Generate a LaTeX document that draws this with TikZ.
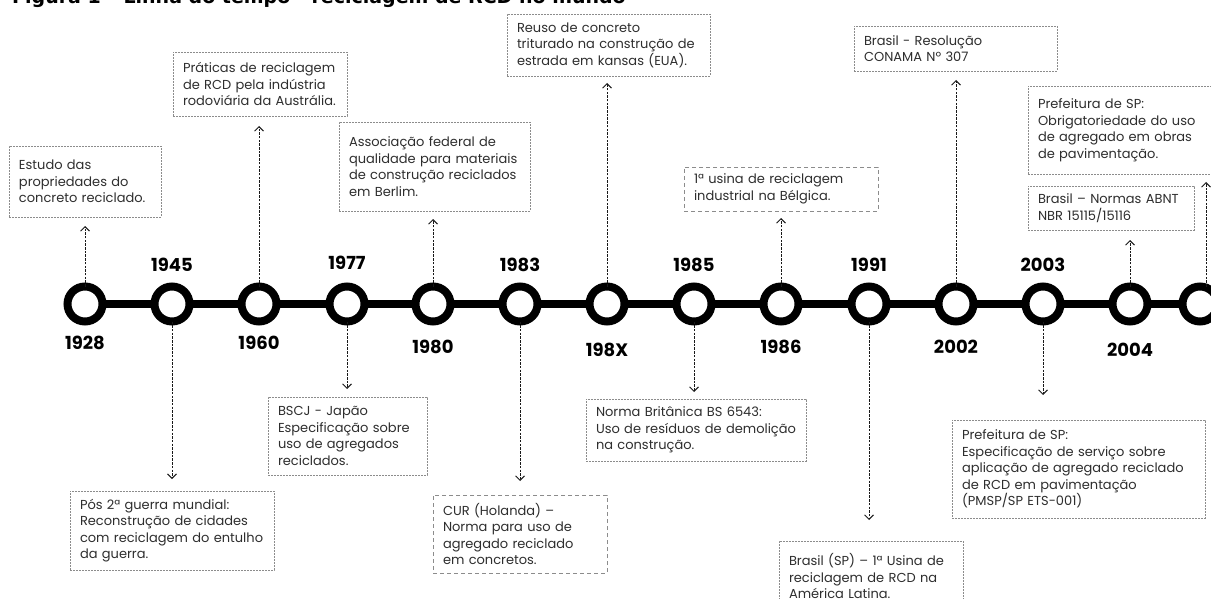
\documentclass[tikz,border=0pt]{standalone}
\usepackage{fontspec}
\setmainfont{Poppins}
\newfontfamily\titlefont{DejaVu Sans}
\usetikzlibrary{arrows.meta}
\definecolor{txt}{HTML}{2E2E2E}
\definecolor{bord}{HTML}{8C8C8C}
\begin{document}
\begin{tikzpicture}[x=1pt,y=-1pt,
  ring/.style={circle,draw=black,line width=8pt,fill=white,minimum size=35pt,inner sep=0pt,outer sep=0pt},
  yr/.style={font=\fontsize{18}{18}\selectfont\bfseries,text=black,inner sep=0pt},
  box/.style={draw=bord,line width=0.8pt,dash pattern=on 2pt off 1pt,anchor=north west,
    inner xsep=10pt,inner ysep=4pt,outer sep=0pt,align=left,text=txt,
    font=\fontsize{13}{16.5}\selectfont},
  wide/.style={dash pattern=on 4pt off 3pt},
  conn/.style={draw=black!90,line width=0.8pt,dash pattern=on 2.5pt off 1.2pt,
    -{Straight Barb[length=4.5pt,width=9pt,line width=0.9pt]}},
  tline/.style={line width=7.5pt,black}]
\clip (0,0) rectangle (1211,599);
\fill[white] (0,0) rectangle (1211,599);
% title (clipped at the top)
\node[anchor=base west,inner sep=0pt,font=\titlefont\fontsize{19}{19}\selectfont\bfseries] (title) at (12,4) {Figura 1 – Linha do tempo - reciclagem de RCD no mundo};
% circles
\foreach \n/\x in {1/85,2/172,3/259,4/347,5/433,6/520,7/607,8/694,9/781,10/869,11/956,12/1043,13/1130,14/1200}
  \node[ring] (c\n) at (\x,304) {};
\foreach \a/\b in {1/2,2/3,3/4,4/5,5/6,6/7,7/8,8/9,9/10,10/11,11/12,12/13,13/14}
  \draw[tline] (c\a) -- (c\b);
% years
\node[yr] (y1) at (85,343) {1928};
\node[yr] (y2) at (172,265) {1945};
\node[yr] (y3) at (259,343) {1960};
\node[yr] (y4) at (347,263) {1977};
\node[yr] (y5) at (433,347) {1980};
\node[yr] (y6) at (520,265) {1983};
\node[yr] (y7) at (607,350) {198X};
\node[yr] (y8) at (694,265) {1985};
\node[yr] (y9) at (781,347) {1986};
\node[yr] (y10) at (869,265) {1991};
\node[yr] (y11) at (956,347) {2002};
\node[yr] (y12) at (1043,265) {2003};
\node[yr] (y13) at (1130,350) {2004};
% boxes above
\node[box,minimum width=152pt,minimum height=71pt,text width=132pt] (b1) at (9,146) {Estudo das\\propriedades do\\concreto reciclado.};
\node[box,minimum width=174pt,minimum height=64pt,text width=154pt] (b3) at (173,52) {Práticas de reciclagem\\de RCD pela indústria\\rodoviária da Austrália.};
\node[box,minimum width=191pt,minimum height=89pt,text width=171pt] (b5) at (339,122) {Associação federal de\\qualidade para materiais\\de construção reciclados\\em Berlim.};
\node[box,minimum width=203pt,minimum height=62pt,text width=183pt] (b7) at (507,14) {Reuso de concreto\\triturado na construção de\\estrada em kansas (EUA).};
\node[box,wide,minimum width=194pt,minimum height=44pt,text width=174pt] (b9) at (684,167) {1ª usina de reciclagem\\industrial na Bélgica.};
\node[box,minimum width=203pt,minimum height=45pt,text width=183pt] (b11) at (854,26) {Brasil - Resolução\\CONAMA Nº 307};
\node[box,minimum width=183pt,minimum height=88pt,text width=163pt] (b14) at (1028,86) {Prefeitura de SP:\\Obrigatoriedade do uso\\de agregado em obras\\de pavimentação.};
\node[box,minimum width=166pt,minimum height=44pt,text width=146pt] (b13) at (1028,186) {Brasil – Normas ABNT\\NBR 15115/15116};
% boxes below
\node[box,minimum width=204pt,minimum height=79pt,text width=184pt] (b2) at (70,491) {Pós 2ª guerra mundial:\\Reconstrução de cidades\\com reciclagem do entulho\\da guerra.};
\node[box,minimum width=159pt,minimum height=78pt,text width=139pt] (b4) at (268,397) {BSCJ - Japão\\Especificação sobre\\uso de agregados\\reciclados.};
\node[box,wide,minimum width=174pt,minimum height=78pt,text width=154pt] (b6) at (433,495) {CUR (Holanda) –\\Norma para uso de\\agregado reciclado\\em concretos.};
\node[box,minimum width=220pt,minimum height=62pt,text width=200pt] (b8) at (586,399) {Norma Britânica BS 6543:\\Uso de resíduos de demolição\\na construção.};
\node[box,minimum width=184pt,minimum height=70pt,text width=164pt] (b10) at (779,541) {Brasil (SP) – 1ª Usina de\\reciclagem de RCD na\\América Latina.};
\node[box,minimum width=253pt,minimum height=98pt,text width=233pt] (b12) at (952,420) {Prefeitura de SP:\\Especificação de serviço sobre\\aplicação de agregado reciclado\\de RCD em pavimentação\\(PMSP/SP ETS-001)};
% connectors up
\draw[conn] (c1.north) -- ([yshift=-9pt]c1.north |- b1.south);
\draw[conn] (c3.north) -- ([yshift=-10pt]c3.north |- b3.south);
\draw[conn] (c5.north) -- ([yshift=-8pt]c5.north |- b5.south);
\draw[conn] (c7.north) -- ([yshift=-7pt]c7.north |- b7.south);
\draw[conn] (c9.north) -- ([yshift=-7pt]c9.north |- b9.south);
\draw[conn] (c11.north) -- ([yshift=-9pt]c11.north |- b11.south);
\draw[conn] (c13.north) -- ([yshift=-10pt]c13.north |- b13.south);
\draw[conn] ([xshift=6pt]c14.north) -- ([xshift=6pt,yshift=-8pt]c14.north |- b14.south);
% connectors down
\draw[conn] (c2.south) -- ([yshift=12pt]c2.south |- b2.north);
\draw[conn] (c4.south) -- ([yshift=8pt]c4.south |- b4.north);
\draw[conn] (c6.south) -- ([yshift=14pt]c6.south |- b6.north);
\draw[conn] (c8.south) -- ([yshift=7pt]c8.south |- b8.north);
\draw[conn] (c10.south) -- ([yshift=21pt]c10.south |- b10.north);
\draw[conn] (c12.south) -- ([yshift=25pt]c12.south |- b12.north);
\end{tikzpicture}
\end{document}
